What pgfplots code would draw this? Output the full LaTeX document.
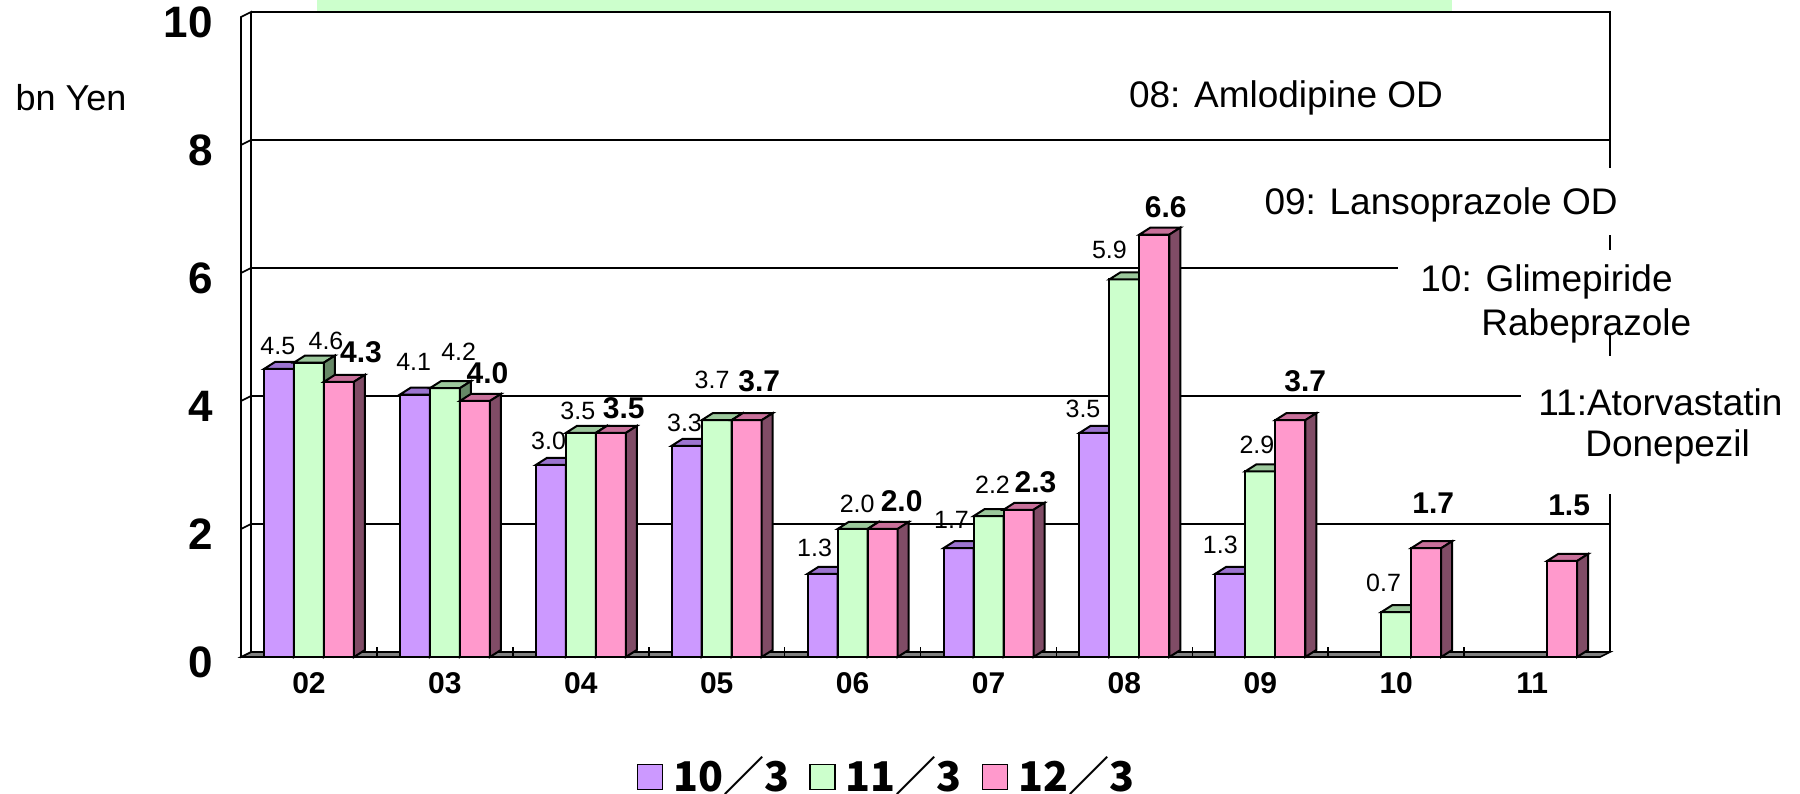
\documentclass[border=0pt]{standalone}
\usepackage{pgfplots}
\pgfplotsset{compat=1.18}
\usepackage{pgfplotstable}
\usepackage{fontspec}
\setmainfont{Liberation Sans}
\newfontfamily\jpfont{Noto Sans CJK JP}
\definecolor{cP}{HTML}{CC99FF}
\definecolor{cPt}{HTML}{9C74D0}
\definecolor{cPs}{HTML}{66508A}
\definecolor{cG}{HTML}{CCFFCC}
\definecolor{cGt}{HTML}{9CC89C}
\definecolor{cGs}{HTML}{668866}
\definecolor{cK}{HTML}{FF99CC}
\definecolor{cKt}{HTML}{C8709A}
\definecolor{cKs}{HTML}{804C66}
\definecolor{floorgray}{HTML}{808080}
\definecolor{titlegreen}{HTML}{CCFFCC}

\def\hv{0}
\def\ldx{0}
\def\ldy{0}
% 3D bar mark: #2 bar shift, #3 top colour, #4 side colour, #5 front colour
\newcommand\defbarmark[5]{%
\pgfdeclareplotmark{#1}{%
 \pgfsetfillcolor{#5}%
 \pgfpathrectanglecorners{\pgfpoint{#2-7.5pt}{0pt-\hv*32pt}}{\pgfpoint{#2+7.5pt}{0pt}}%
 \pgfusepath{fill,stroke}%
 \pgfsetfillcolor{#3}%
 \pgfpathmoveto{\pgfpoint{#2-7.5pt}{0pt}}%
 \pgfpathlineto{\pgfpoint{#2-2pt}{3.5pt}}%
 \pgfpathlineto{\pgfpoint{#2+13pt}{3.5pt}}%
 \pgfpathlineto{\pgfpoint{#2+7.5pt}{0pt}}%
 \pgfpathclose
 \pgfusepath{fill,stroke}%
 \pgfsetfillcolor{#4}%
 \pgfpathmoveto{\pgfpoint{#2+7.5pt}{0pt}}%
 \pgfpathlineto{\pgfpoint{#2+13pt}{3.5pt}}%
 \pgfpathlineto{\pgfpoint{#2+13pt}{3.5pt-\hv*32pt}}%
 \pgfpathlineto{\pgfpoint{#2+7.5pt}{0pt-\hv*32pt}}%
 \pgfpathclose
 \pgfusepath{fill,stroke}%
}}
\defbarmark{barP}{-15pt}{cPt}{cPs}{cP}
\defbarmark{barG}{0pt}{cGt}{cGs}{cG}
\defbarmark{barK}{15pt}{cKt}{cKs}{cK}

% x = category index (02..11 -> 0..9), y = bn Yen, dx/dy = label offset (pt)
\pgfplotstableread{
x y dx dy
0 4.5 -0.6 11.5
1 4.1 -0.6 16.1
2 3.0 -1.1 12.1
3 3.3 -1.1 11.5
4 1.3 -4.0 13.0
5 1.7 -3.5 14.0
6 3.5 -5.7 12.1
7 1.3 -5.0 14.5
}\tabP
\pgfplotstableread{
x y dx dy
0 4.6 8.5 11.0
1 4.2 6.9 18.4
2 3.5 -1.5 10.9
3 3.7 -2.3 20.1
4 2.0 2.3 12.5
5 2.2 2.0 15.5
6 5.9 -7.5 14.9
7 2.9 -1.7 13.2
8 0.7 -6.3 14.4
}\tabG
\pgfplotstableread{
x y dx dy
0 4.3 11.0 15.0
1 4.0 6.3 13.8
2 3.5 6.5 12.6
3 3.7 6.3 19.5
4 2.0 9.5 14.0
5 2.3 8.5 14.0
6 6.6 5.7 13.8
7 3.7 7.5 19.5
8 1.7 3.5 22.5
9 1.5 3.5 28.0
}\tabK

\pgfplotsset{
 sqlegend/.style={legend image code/.code={\draw[fill=#1,draw=black,line width=0.8pt] (0pt,-6.25pt) rectangle (12.5pt,6.25pt);}},
 vlabels/.style 2 args={
   on layer=axis foreground,
   nodes near coords={\pgfmathprintnumber[fixed,fixed zerofill,precision=1]{\pgfplotspointmeta}},
   visualization depends on={\thisrow{dx} \as \ldx},
   visualization depends on={\thisrow{dy} \as \ldy},
   every node near coord/.append style={anchor=center, inner sep=0pt, xshift={\ldx*1pt+(#1)}, yshift=\ldy*1pt, text=black, #2},
 },
}

\begin{document}
\begin{tikzpicture}
\begin{axis}[
 set layers=standard,
 x=67.95pt, y=32pt,
 xmin=-0.5, xmax=9.5, ymin=0, ymax=10,
 clip=false,
 axis line style={draw=none},
 xtick={0,...,9},
 xticklabels={\textbf{02},\textbf{03},\textbf{04},\textbf{05},\textbf{06},\textbf{07},\textbf{08},\textbf{09},\textbf{10},\textbf{11}},
 minor xtick={0.5,1.5,...,8.5},
 ytick={0,2,4,6,8,10},
 major tick length=0pt, minor tick length=5pt, tick align=inside,
 xtick pos=left, ytick pos=left,
 minor tick style={black, line width=0.8pt},
 /pgf/number format/assume math mode=true,
 yticklabel style={font=\fontsize{22}{26}\selectfont\bfseries, anchor=east, inner sep=0pt, xshift=-14pt, yshift=-2.5pt},
 xticklabel style={font=\fontsize{15}{18}\selectfont\bfseries, anchor=center, inner sep=0pt, yshift=-13pt},
 legend columns=3,
 legend style={at={(0.475,-0.1875)}, anchor=center, draw=none, fill=none, inner sep=0pt,
   font=\jpfont\bfseries\fontsize{20.5}{24}\selectfont, nodes={inner sep=1pt, text height=15pt, text depth=0pt},
   /tikz/every odd column/.append style={column sep=4pt},
   /tikz/every even column/.append style={column sep=9pt}},
]
\begin{pgfonlayer}{axis background}
 \filldraw[fill=floorgray, draw=black, line width=0.8pt] (axis cs:-0.5,0) -- (axis cs:9.5,0) -- (axis cs:9.5736,0.078) -- (axis cs:-0.4264,0.078) -- cycle;
 \filldraw[fill=white, draw=black, line width=0.8pt] (axis cs:-0.5,0) -- (axis cs:-0.4264,0.078) -- (axis cs:-0.4264,10.078) -- (axis cs:-0.5,10) -- cycle;
 \draw[line width=0.8pt] (axis cs:-0.5,2) -- (axis cs:-0.4264,2.078) -- (axis cs:9.5736,2.078);
 \draw[line width=0.8pt] (axis cs:-0.5,4) -- (axis cs:-0.4264,4.078) -- (axis cs:9.5736,4.078);
 \draw[line width=0.8pt] (axis cs:-0.5,6) -- (axis cs:-0.4264,6.078) -- (axis cs:9.5736,6.078);
 \draw[line width=0.8pt] (axis cs:-0.5,8) -- (axis cs:-0.4264,8.078) -- (axis cs:9.5736,8.078);
 \draw[line width=0.8pt] (axis cs:-0.4264,10.078) -- (axis cs:9.5736,10.078) -- (axis cs:9.5736,0.078);
\end{pgfonlayer}

% 3D bars (front, top and side faces) drawn as marks at each data point
\addplot[only marks, mark=barP, draw=black, line width=1pt, forget plot,
  visualization depends on={\thisrow{y} \as \hv}] table[x=x,y=y] {\tabP};
\addplot[only marks, mark=barG, draw=black, line width=1pt, forget plot,
  visualization depends on={\thisrow{y} \as \hv}] table[x=x,y=y] {\tabG};
\addplot[only marks, mark=barK, draw=black, line width=1pt, forget plot,
  visualization depends on={\thisrow{y} \as \hv}] table[x=x,y=y] {\tabK};

% same series as bar plots: legend entries and value labels
\addplot[ybar, bar width=15pt, bar shift=-15pt, fill=none, draw=none, sqlegend=cP,
  vlabels={-15pt}{font=\fontsize{12.5}{14}\selectfont}] table[x=x,y=y] {\tabP};
\addlegendentry{10／3}
\addplot[ybar, bar width=15pt, bar shift=0pt, fill=none, draw=none, sqlegend=cG,
  vlabels={0pt}{font=\fontsize{12.5}{14}\selectfont}] table[x=x,y=y] {\tabG};
\addlegendentry{11／3}
\addplot[ybar, bar width=15pt, bar shift=15pt, fill=none, draw=none, sqlegend=cK,
  vlabels={15pt}{font=\fontsize{15}{17}\selectfont\bfseries}] table[x=x,y=y] {\tabK};
\addlegendentry{12／3}

% white label boxes over grid / border
\fill[white] (axis cs:8.175,6.594) rectangle (axis cs:9.647,7.641);
\fill[white] (axis cs:8.013,5.0625) rectangle (axis cs:9.647,6.359);
\fill[white] (axis cs:8.918,2.547) rectangle (axis cs:9.647,4.703);

\node[anchor=base, inner sep=0pt, font=\fontsize{18}{21}\selectfont] at (axis cs:-1.751,8.531) {bn Yen};
\node[anchor=base, inner sep=0pt, font=\fontsize{18.5}{22}\selectfont] at (axis cs:7.189,8.578) {08: Amlodipine OD};
\node[anchor=base, inner sep=0pt, font=\fontsize{18.5}{22}\selectfont] at (axis cs:8.330,6.906) {09: Lansoprazole OD};
\node[anchor=base west, inner sep=0pt, font=\fontsize{18.5}{22}\selectfont] at (axis cs:8.175,5.703) {10: Glimepiride};
\node[anchor=base west, inner sep=0pt, font=\fontsize{18.5}{22}\selectfont] at (axis cs:8.624,5.016) {Rabeprazole};
\node[anchor=base west, inner sep=0pt, font=\fontsize{18.5}{22}\selectfont] at (axis cs:9.043,3.781) {11:Atorvastatin};
\node[anchor=base west, inner sep=0pt, font=\fontsize{18.5}{22}\selectfont] at (axis cs:9.389,3.125) {Donepezil};

\fill[titlegreen] (axis cs:0.059,10.094) rectangle (axis cs:8.41,10.266);

\coordinate (BL) at (axis cs:-2.2737,-2.1406);
\coordinate (TR) at (axis cs:10.9713,10.2656);
\end{axis}
\pgfresetboundingbox
\path[use as bounding box] (BL) rectangle (TR);
\end{tikzpicture}
\end{document}
